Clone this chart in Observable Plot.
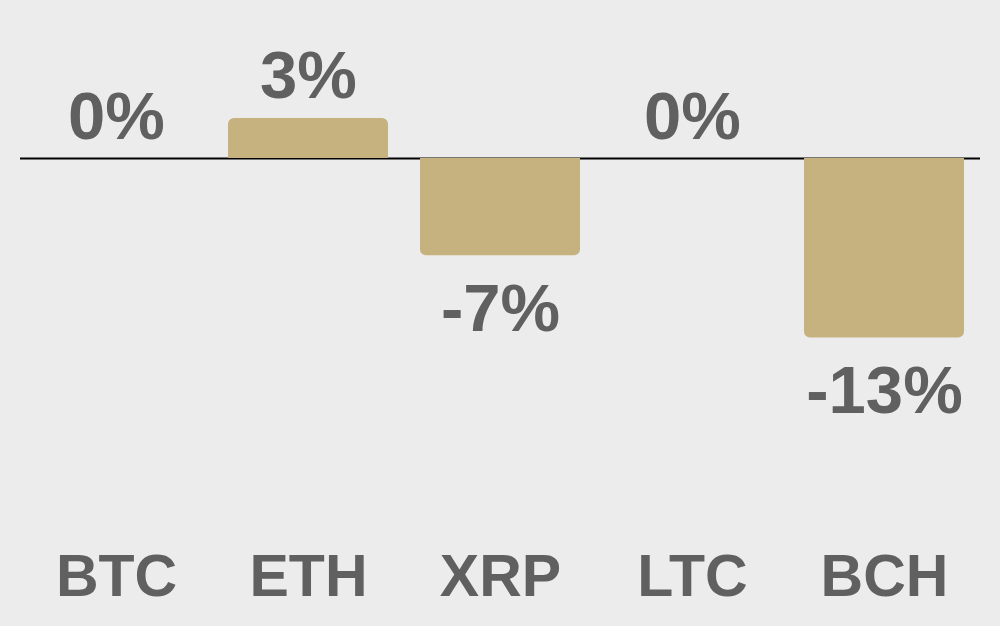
<!DOCTYPE html>
<html>
<head>
<meta charset="utf-8">
<script src="https://cdn.jsdelivr.net/npm/d3@7"></script>
<script src="https://cdn.jsdelivr.net/npm/@observablehq/plot@0.6"></script>
<style>
  html, body { margin: 0; padding: 0; background: #ececec; }
  #chart { width: 1000px; height: 626px; }
</style>
</head>
<body>
<div id="chart"></div>
<script>
const coins = ["BTC", "ETH", "XRP", "LTC", "BCH"];
const changes = [0, 2.9, -7.05, 0, -13.0];
const valueLabels = ["0%", "3%", "-7%", "0%", "-13%"];

const data = coins.map((c, i) => ({coin: c, value: changes[i], label: valueLabels[i]}));

const barColor = "#c5b27f";
const textColor = "#606060";

const chart = Plot.plot({
  width: 1000,
  height: 626,
  marginLeft: 20,
  marginRight: 20,
  marginTop: 20,
  marginBottom: 192,
  style: {background: "#ececec", fontFamily: "'Liberation Sans', Arial, sans-serif", color: textColor},
  x: {domain: coins, paddingInner: 1/6, paddingOuter: 1/12, label: null},
  y: {domain: [-20, 10], axis: null},
  marks: [
    Plot.ruleY([0], {stroke: "#000", strokeWidth: 2}),
    Plot.barY(data, {x: "coin", y: "value", fill: barColor, rx: 6}),
    Plot.barY(data, {x: "coin", y1: 0, y2: d => d.value / 2, fill: barColor}),
    Plot.text(data.filter(d => d.value >= 0), {
      x: "coin", y: "value", text: "label", lineAnchor: "bottom", dy: -20,
      fontSize: 67, fontWeight: "bold", fill: textColor
    }),
    Plot.text(data.filter(d => d.value < 0), {
      x: "coin", y: "value", text: "label", lineAnchor: "top", dy: 28,
      fontSize: 67, fontWeight: "bold", fill: textColor
    }),
    Plot.axisX({tickSize: 0, tickPadding: 120, fontSize: 59, fontWeight: "bold", fill: textColor, label: null})
  ]
});
document.getElementById("chart").appendChild(chart);
</script>
</body>
</html>
